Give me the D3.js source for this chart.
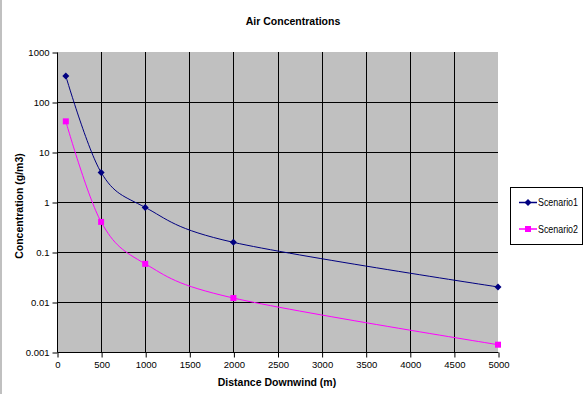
<!DOCTYPE html>
<html>
<head>
<meta charset="utf-8">
<script src="https://cdn.jsdelivr.net/npm/d3@7"></script>
<style>
  body { margin: 0; background: #fff; }
  svg { display: block; font-family: Arial, "Liberation Sans", sans-serif; }
</style>
</head>
<body>
<div id="chart"></div>
<script>
// data
const distances = [100, 500, 1000, 2000, 5000];
const scenario1 = [330, 3.9, 0.78, 0.156, 0.02];
const scenario2 = [41, 0.4, 0.058, 0.012, 0.0014];
const seriesNames = ["Scenario1", "Scenario2"];
const xTicks = [0, 500, 1000, 1500, 2000, 2500, 3000, 3500, 4000, 4500, 5000];
const yTicks = [0.001, 0.01, 0.1, 1, 10, 100, 1000];

const width = 585, height = 394;
const plot = { left: 57, right: 498, top: 52, bottom: 352 };

const svg = d3.select("#chart").append("svg")
  .attr("width", width)
  .attr("height", height);

// left window edge
svg.append("rect").attr("x", 0).attr("y", 0).attr("width", 2).attr("height", height).attr("fill", "#c0c0c0");

const x = d3.scaleLinear().domain([0, 5000]).range([plot.left, plot.right]);
const y = d3.scaleLog().domain([0.001, 1000]).range([plot.bottom, plot.top]);

// plot area
svg.append("rect")
  .attr("x", plot.left).attr("y", plot.top)
  .attr("width", plot.right - plot.left).attr("height", plot.bottom - plot.top)
  .attr("fill", "#c0c0c0");

// grid lines
svg.append("g").selectAll("line")
  .data(xTicks.filter(d => d > 0 && d < 5000))
  .enter().append("line")
  .attr("x1", d => Math.round(x(d)) + 0.5).attr("x2", d => Math.round(x(d)) + 0.5)
  .attr("y1", plot.top).attr("y2", plot.bottom)
  .attr("stroke", "#000").attr("stroke-width", 1);

svg.append("g").selectAll("line")
  .data(yTicks.filter(d => d > 0.001 && d < 1000))
  .enter().append("line")
  .attr("y1", d => Math.round(y(d)) + 0.5).attr("y2", d => Math.round(y(d)) + 0.5)
  .attr("x1", plot.left).attr("x2", plot.right)
  .attr("stroke", "#000").attr("stroke-width", 1);

// axes
const xAxis = d3.axisBottom(x).tickValues(xTicks).tickSize(5).tickPadding(4).tickFormat(d3.format("d"));
const yAxis = d3.axisLeft(y).tickValues(yTicks).tickSize(5).tickPadding(3).tickFormat(d => String(d));

const gx = svg.append("g").attr("transform", `translate(0.5,${plot.bottom + 0.5})`).call(xAxis);
const gy = svg.append("g").attr("transform", `translate(${plot.left + 0.5},0.5)`).call(yAxis);
[gx, gy].forEach(g => {
  g.attr("font-family", null);
  g.selectAll("line").attr("stroke", "#000");
  g.selectAll("text").attr("fill", "#000").style("font-size", "9.5px");
});
gx.select(".domain").attr("stroke", "#000").attr("d", `M${plot.left},0H${plot.right}`);
gy.select(".domain").attr("stroke", "#000").attr("d", `M0,${plot.top}V${plot.bottom}`);

// series
const colors = ["#000080", "#ff00ff"];
const allSeries = [scenario1, scenario2].map((vals, i) => ({
  name: seriesNames[i],
  color: colors[i],
  points: distances.map((d, j) => ({ x: d, y: vals[j] }))
}));

const line = d3.line()
  .x(d => x(d.x))
  .y(d => y(d.y))
  .curve(d3.curveCardinal.tension(0));

allSeries.forEach((s, i) => {
  svg.append("path")
    .datum(s.points)
    .attr("fill", "none")
    .attr("stroke", s.color)
    .attr("stroke-width", 1)
    .attr("d", line);

  const marks = svg.append("g").selectAll("path")
    .data(s.points)
    .enter().append("path")
    .attr("transform", d => `translate(${x(d.x)},${y(d.y)})`)
    .attr("fill", s.color);
  if (i === 0) marks.attr("d", "M0,-3.5L3.5,0L0,3.5L-3.5,0Z");
  else marks.attr("d", "M-3,-3H3V3H-3Z");
});

// legend
const legend = svg.append("g").attr("transform", "translate(510,187)");
legend.append("rect")
  .attr("x", 0.5).attr("y", 0.5).attr("width", 72).attr("height", 57)
  .attr("fill", "#fff").attr("stroke", "#000").attr("stroke-width", 1);

allSeries.forEach((s, i) => {
  const ly = 15.5 + i * 26.5;
  legend.append("line")
    .attr("x1", 9).attr("x2", 27).attr("y1", ly).attr("y2", ly)
    .attr("stroke", s.color).attr("stroke-width", 1.5);
  legend.append("path")
    .attr("transform", `translate(18,${ly})`)
    .attr("fill", s.color)
    .attr("d", i === 0 ? "M0,-3.5L3.5,0L0,3.5L-3.5,0Z" : "M-3,-3H3V3H-3Z");
  legend.append("text")
    .attr("x", 28).attr("y", ly + 3.5)
    .attr("textLength", 40)
    .attr("lengthAdjust", "spacingAndGlyphs")
    .style("font-size", "10.5px")
    .text(s.name);
});

// titles
svg.append("text")
  .attr("x", 293).attr("y", 25)
  .attr("text-anchor", "middle")
  .style("font-size", "10.5px").style("font-weight", "bold")
  .text("Air Concentrations");

svg.append("text")
  .attr("x", 277).attr("y", 386)
  .attr("text-anchor", "middle")
  .style("font-size", "10.5px").style("font-weight", "bold")
  .text("Distance Downwind (m)");

svg.append("text")
  .attr("transform", "translate(23,206) rotate(-90)")
  .attr("text-anchor", "middle")
  .style("font-size", "10.5px").style("font-weight", "bold")
  .text("Concentration (g/m3)");
</script>
</body>
</html>
